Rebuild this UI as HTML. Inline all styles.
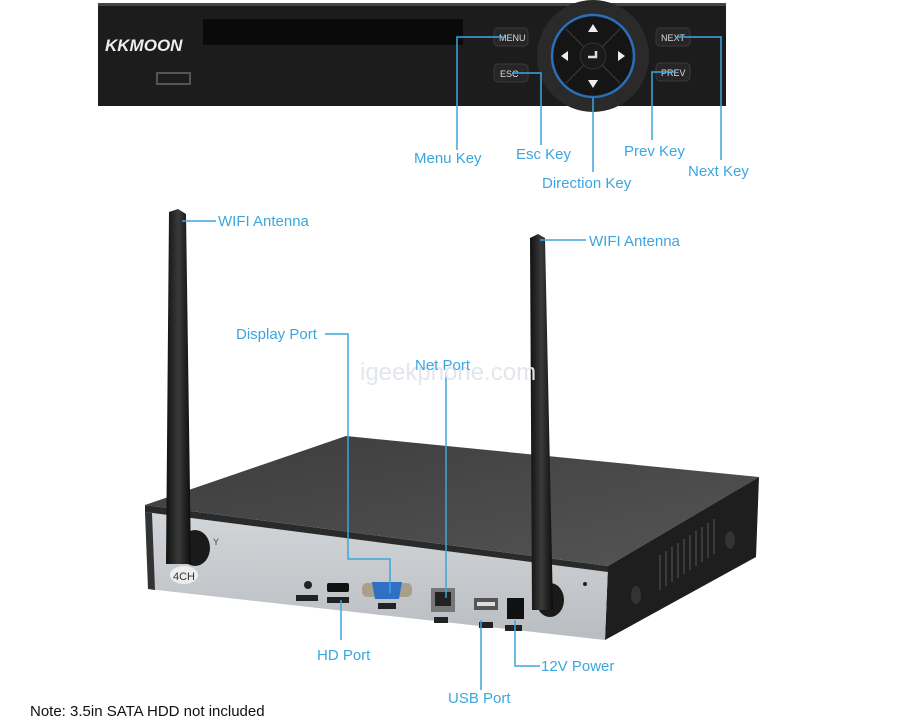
<!DOCTYPE html>
<html><head><meta charset="utf-8"><style>
html,body{margin:0;padding:0;background:#fff;width:903px;height:727px;overflow:hidden}
svg text{font-family:"Liberation Sans",sans-serif}
</style></head><body>
<svg width="903" height="727" viewBox="0 0 903 727" xmlns="http://www.w3.org/2000/svg">
<defs>
<linearGradient id="ant" x1="0" x2="1"><stop offset="0" stop-color="#111"/><stop offset="0.5" stop-color="#3a3a3a"/><stop offset="1" stop-color="#0c0c0c"/></linearGradient>
<linearGradient id="front" x1="0" y1="0" x2="0" y2="1"><stop offset="0" stop-color="#d4d7da"/><stop offset="1" stop-color="#b9bdc1"/></linearGradient>
<linearGradient id="topg" x1="0" y1="0" x2="1" y2="1"><stop offset="0" stop-color="#3c3c3c"/><stop offset="1" stop-color="#555"/></linearGradient>
</defs>
<!-- top panel -->
<rect x="98" y="3" width="628" height="103" fill="#1c1c1c"/>
<rect x="98" y="3" width="628" height="3" fill="#444"/>
<rect x="203" y="19" width="260" height="26" fill="#0a0a0a"/>
<text x="105" y="51" font-size="17" font-weight="bold" font-style="italic" fill="#eee">KKMOON</text>
<rect x="157" y="73" width="33" height="11" fill="none" stroke="#555" stroke-width="2"/>
<circle cx="593" cy="56" r="56" fill="#2a2a2a"/>
<circle cx="593" cy="56" r="41" fill="#151515" stroke="#2a6fb8" stroke-width="2.5"/>
<line x1="566" y1="29" x2="620" y2="83" stroke="#333" stroke-width="1.5"/>
<line x1="620" y1="29" x2="566" y2="83" stroke="#333" stroke-width="1.5"/>
<circle cx="593" cy="56" r="13" fill="#1a1a1a" stroke="#333"/>
<path d="M588 57 h8 v-6" stroke="#ddd" stroke-width="2.5" fill="none"/>
<polygon points="593,24 588,32 598,32" fill="#eee"/>
<polygon points="593,88 588,80 598,80" fill="#eee"/>
<polygon points="561,56 568,51 568,61" fill="#eee"/>
<polygon points="625,56 618,51 618,61" fill="#eee"/>
<g font-family="Liberation Serif" font-size="9" fill="#ddd">
<rect x="494" y="28" width="34" height="18" rx="4" fill="#262626" stroke="#3a3a3a"/><text x="499" y="41" font-family="Liberation Serif">MENU</text>
<rect x="494" y="64" width="34" height="18" rx="4" fill="#262626" stroke="#3a3a3a"/><text x="500" y="77" font-family="Liberation Serif">ESC</text>
<rect x="656" y="28" width="34" height="18" rx="4" fill="#262626" stroke="#3a3a3a"/><text x="661" y="41" font-family="Liberation Serif">NEXT</text>
<rect x="656" y="63" width="34" height="18" rx="4" fill="#262626" stroke="#3a3a3a"/><text x="661" y="76" font-family="Liberation Serif">PREV</text>
</g>
<!-- device -->
<polygon points="145,505 346,436 759,477 608,566" fill="url(#topg)"/>
<polygon points="608,566 759,477 756,557 605,640" fill="#1e1e1e"/>
<g stroke="#444" stroke-width="1.5">
<line x1="660" y1="555" x2="660" y2="590"/><line x1="666" y1="551" x2="666" y2="586"/><line x1="672" y1="547" x2="672" y2="582"/><line x1="678" y1="543" x2="678" y2="578"/><line x1="684" y1="539" x2="684" y2="574"/><line x1="690" y1="535" x2="690" y2="570"/><line x1="696" y1="531" x2="696" y2="566"/><line x1="702" y1="527" x2="702" y2="562"/><line x1="708" y1="523" x2="708" y2="558"/><line x1="714" y1="519" x2="714" y2="554"/>
</g>
<ellipse cx="636" cy="595" rx="5" ry="9" fill="#333"/><ellipse cx="730" cy="540" rx="5" ry="9" fill="#333"/>
<polygon points="145,505 608,566 605,640 148,589" fill="url(#front)"/>
<polygon points="145,505 608,566 608,572 145,512" fill="#2a2a2a"/>
<polygon points="145,512 152,513 155,590 148,589" fill="#333"/>
<ellipse cx="184" cy="575" rx="14" ry="9" fill="#eee"/>
<text x="173" y="580" font-size="11" fill="#333">4CH</text>
<text x="213" y="545" font-size="9" fill="#444">Y</text>
<circle cx="308" cy="585" r="4" fill="#222"/><rect x="296" y="595" width="22" height="6" fill="#222"/>
<rect x="327" y="583" width="22" height="9" rx="2" fill="#111"/><rect x="327" y="597" width="22" height="6" fill="#222"/>
<rect x="362" y="583" width="50" height="14" rx="5" fill="#a8a08a"/><polygon points="372,582 402,582 399,599 375,599" fill="#2f6fc4"/><rect x="378" y="603" width="18" height="6" fill="#222"/>
<rect x="431" y="588" width="24" height="24" fill="#777"/><rect x="435" y="592" width="16" height="14" fill="#222"/><rect x="434" y="617" width="14" height="6" fill="#222"/>
<rect x="474" y="598" width="24" height="12" fill="#555"/><rect x="477" y="602" width="18" height="4" fill="#ddd"/><rect x="479" y="622" width="14" height="6" fill="#222"/>
<rect x="507" y="598" width="17" height="21" fill="#111"/><rect x="505" y="625" width="17" height="6" fill="#222"/>
<circle cx="585" cy="584" r="2" fill="#222"/>
<ellipse cx="195" cy="548" rx="15" ry="18" fill="#1a1a1a"/>
<ellipse cx="550" cy="600" rx="14" ry="17" fill="#1a1a1a"/>
<!-- antennas -->
<polygon points="169,212 178,209 186,214 191,564 166,564" fill="url(#ant)"/>
<polygon points="530,238 538,234 545,238 553,610 532,610" fill="url(#ant)"/>
<!-- leader lines -->
<g stroke="#3ba6de" stroke-width="1.5" fill="none">
<path d="M505 37 H457 V150"/>
<path d="M512 73 H541 V145"/>
<path d="M593 98 V172"/>
<path d="M676 72 H652 V140"/>
<path d="M676 37 H721 V160"/>
<path d="M182 221 H216"/>
<path d="M540 240 H586"/>
<path d="M325 334 H348 V559 H390 V593"/>
<path d="M446 372 V598"/>
<path d="M341 600 V640"/>
<path d="M481 620 V690"/>
<path d="M515 620 V666 H540"/>
</g>
<text x="360" y="380" font-size="24" fill="#e3e6ea">igeekphone.com</text>
<g font-size="15" fill="#3ba6de">
<text x="414" y="163">Menu Key</text>
<text x="516" y="159">Esc Key</text>
<text x="542" y="188">Direction Key</text>
<text x="624" y="156">Prev Key</text>
<text x="688" y="176">Next Key</text>
<text x="218" y="226">WIFI Antenna</text>
<text x="589" y="246">WIFI Antenna</text>
<text x="236" y="339">Display Port</text>
<text x="415" y="370">Net Port</text>
<text x="317" y="660">HD Port</text>
<text x="448" y="703">USB Port</text>
<text x="541" y="671">12V Power</text>
</g>
<text x="30" y="716" font-size="15" fill="#111">Note: 3.5in SATA HDD not included</text>
</svg>
</body></html>
